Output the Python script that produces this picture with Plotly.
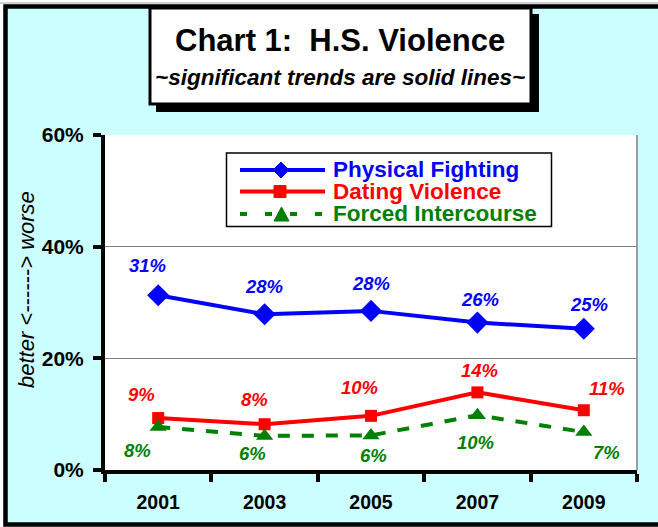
import plotly.graph_objects as go

years = ["2001", "2003", "2005", "2007", "2009"]
physical_fighting = [31.3, 27.9, 28.5, 26.4, 25.3]
dating_violence = [9.3, 8.2, 9.7, 13.9, 10.7]
forced_intercourse = [7.7, 6.1, 6.2, 9.8, 6.8]
pf_labels = ["31%", "28%", "28%", "26%", "25%"]
dv_labels = ["9%", "8%", "10%", "14%", "11%"]
fi_labels = ["8%", "6%", "6%", "10%", "7%"]
series_names = ["Physical Fighting", "Dating Violence", "Forced Intercourse"]
y_ticks = [0, 20, 40, 60]
y_tick_text = ["0%", "20%", "40%", "60%"]

# label offsets in pixels (style, not data)
pf_dx = [-11, -1, 0, 3, 5]
pf_dy = [30, 28, 27, 23, 24]
dv_dx = [-17, -10, -12, 2, 23]
dv_dy = [24, 25, 28, 22, 22]
fi_dx = [-21, -12, 2, -2, 23]
fi_dy = [-23, -18, -20, -27, -20]

FONT = "Arial, Liberation Sans, sans-serif"
BLUE, RED, GREEN = "#0000FF", "#FF0000", "#008000"
CYAN = "#CCFFFF"

W, H = 658, 527
L, R, T, B = 105, 637, 135, 470


def px(x):
    return (x - L) / (R - L)


def py(y):
    return (B - y) / (B - T)


fig = go.Figure()
fig.add_trace(go.Scatter(x=years, y=physical_fighting, name=series_names[0],
                         mode="lines+markers", showlegend=False,
                         line=dict(color=BLUE, width=4),
                         marker=dict(symbol="diamond", size=17, color=BLUE)))
fig.add_trace(go.Scatter(x=years, y=dating_violence, name=series_names[1],
                         mode="lines+markers", showlegend=False,
                         line=dict(color=RED, width=4),
                         marker=dict(symbol="square", size=12, color=RED)))
fig.add_trace(go.Scatter(x=years, y=forced_intercourse, name=series_names[2],
                         mode="lines+markers", showlegend=False,
                         line=dict(color=GREEN, width=4, dash="dash"),
                         marker=dict(symbol="triangle-up", size=15, color=GREEN)))

annotations = []
label_sets = [
    (physical_fighting, pf_labels, BLUE, pf_dx, pf_dy),
    (dating_violence, dv_labels, RED, dv_dx, dv_dy),
    (forced_intercourse, fi_labels, GREEN, fi_dx, fi_dy),
]
for vals, labs, col, dxs, dys in label_sets:
    for i, (v, lab) in enumerate(zip(vals, labs)):
        annotations.append(dict(x=i, y=v, xref="x", yref="y",
                                xanchor="center", yanchor="middle",
                                text=f"<b><i>{lab}</i></b>",
                                showarrow=False, xshift=dxs[i], yshift=dys[i],
                                font=dict(family=FONT, size=18.5, color=col)))

# title texts
annotations.append(dict(x=px(340), y=py(40), xref="paper", yref="paper",
                        xanchor="center", yanchor="middle",
                        text="<b>Chart 1:  H.S. Violence</b>", showarrow=False,
                        font=dict(family=FONT, size=31, color="black")))
annotations.append(dict(x=px(340), y=py(77), xref="paper", yref="paper",
                        xanchor="center", yanchor="middle",
                        text="<b><i>~significant trends are solid lines~</i></b>",
                        showarrow=False,
                        font=dict(family=FONT, size=22.5, color="black")))
annotations.append(dict(x=px(26), y=py(290), xref="paper", yref="paper",
                        xanchor="center", yanchor="middle",
                        text="<i>better &lt;------&gt; worse</i>", showarrow=False,
                        textangle=-90,
                        font=dict(family=FONT, size=22, color="black")))

# legend texts
for name, col, yy in zip(series_names, [BLUE, RED, GREEN], [169, 191, 213]):
    annotations.append(dict(x=px(331), y=py(yy), xref="paper", yref="paper",
                            xanchor="left", yanchor="middle",
                            text=f"<b>{name}</b>", showarrow=False,
                            font=dict(family=FONT, size=22.5, color=col)))


def diamond(cx, cy, r):
    return (f"M {px(cx)},{py(cy - r)} L {px(cx + r)},{py(cy)} "
            f"L {px(cx)},{py(cy + r)} L {px(cx - r)},{py(cy)} Z")


def triangle(cx, cy, w, h):
    return (f"M {px(cx)},{py(cy - h / 2)} L {px(cx + w / 2)},{py(cy + h / 2)} "
            f"L {px(cx - w / 2)},{py(cy + h / 2)} Z")


shapes = [
    # white strips outside the frame
    dict(type="rect", xref="paper", yref="paper", x0=px(0), x1=px(W), y0=py(0), y1=py(4),
         fillcolor="white", line=dict(width=0), layer="below"),
    dict(type="rect", xref="paper", yref="paper", x0=px(0), x1=px(3), y0=py(0), y1=py(H),
         fillcolor="white", line=dict(width=0), layer="below"),
    dict(type="line", xref="paper", yref="paper", x0=px(0), x1=px(W), y0=py(3), y1=py(3),
         line=dict(color="#A0A0A0", width=1)),
    # outer frame
    dict(type="rect", xref="paper", yref="paper", x0=px(5.5), x1=px(664), y0=py(6.5), y1=py(524.5),
         line=dict(color="black", width=4.5), fillcolor="rgba(0,0,0,0)"),
    # title box shadow + box
    dict(type="rect", xref="paper", yref="paper", x0=px(156), x1=px(539), y0=py(14), y1=py(112),
         fillcolor="black", line=dict(width=0)),
    dict(type="rect", xref="paper", yref="paper", x0=px(150), x1=px(531), y0=py(8), y1=py(104),
         fillcolor="white", line=dict(color="black", width=3)),
    # right border of plot area
    dict(type="line", xref="paper", yref="paper", x0=1, x1=1, y0=0, y1=1,
         line=dict(color="#808080", width=1.5)),
    # legend box
    dict(type="rect", xref="paper", yref="paper", x0=px(226.5), x1=px(551.5), y0=py(153), y1=py(226.5),
         fillcolor="white", line=dict(color="black", width=1.5)),
    # legend symbols
    dict(type="line", xref="paper", yref="paper", x0=px(240), x1=px(325), y0=py(170), y1=py(170),
         line=dict(color=BLUE, width=4)),
    dict(type="path", xref="paper", yref="paper", path=diamond(281, 170, 8),
         fillcolor=BLUE, line=dict(color=BLUE, width=1)),
    dict(type="line", xref="paper", yref="paper", x0=px(240), x1=px(325), y0=py(191.5), y1=py(191.5),
         line=dict(color=RED, width=4)),
    dict(type="rect", xref="paper", yref="paper", x0=px(274), x1=px(286), y0=py(185.5), y1=py(197.5),
         fillcolor=RED, line=dict(color=RED, width=1)),
    dict(type="line", xref="paper", yref="paper", x0=px(240), x1=px(325), y0=py(214), y1=py(214),
         line=dict(color=GREEN, width=4, dash="7px,18px")),
    dict(type="path", xref="paper", yref="paper", path=triangle(281.5, 214, 15, 14),
         fillcolor=GREEN, line=dict(color=GREEN, width=1)),
]

fig.update_layout(
    width=W, height=H,
    margin=dict(l=L, r=W - R, t=T, b=H - B, pad=0),
    paper_bgcolor=CYAN, plot_bgcolor="white",
    font=dict(family=FONT, color="black"),
    showlegend=False,
    annotations=annotations,
    shapes=shapes,
    xaxis=dict(type="category", range=[-0.5, 4.5], showline=True, linecolor="black",
               linewidth=4, ticks="outside", tickson="boundaries", ticklen=8,
               tickwidth=4, tickcolor="black", showgrid=False,
               tickfont=dict(family=FONT, size=19.5, weight="bold"),
               ticklabelstandoff=12),
    yaxis=dict(range=[0, 60], tickvals=y_ticks, ticktext=y_tick_text,
               showline=True, linecolor="black", linewidth=4,
               ticks="outside", ticklen=8, tickwidth=4, tickcolor="black",
               showgrid=True, gridcolor="#808080", gridwidth=1, zeroline=False,
               tickfont=dict(family=FONT, size=21, weight="bold"),
               ticklabelstandoff=5),
)

fig.write_html("out.html", config={"displayModeBar": False},
               post_script="document.body.style.margin='0';document.body.style.padding='0';")
